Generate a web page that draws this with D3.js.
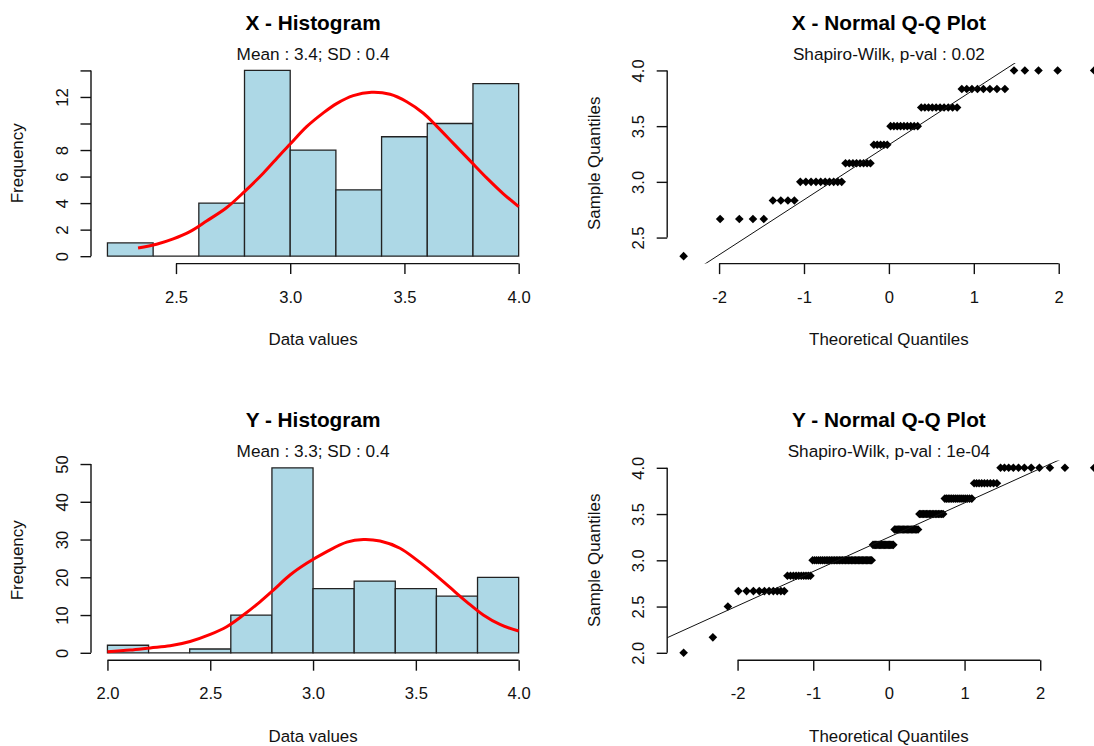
<!DOCTYPE html>
<html><head><meta charset="utf-8">
<script src="https://cdn.jsdelivr.net/npm/d3@7"></script>
<style>
body{margin:0;background:#fff}
svg{display:block;font-family:"Liberation Sans",Arial,sans-serif;background:#fff}
</style>
</head><body>
<svg id="chart" width="1094" height="746"></svg>
<script>
// ---------------- DATA ----------------
const histXBreaks = [2.2, 2.4, 2.6, 2.8, 3.0, 3.2, 3.4, 3.6, 3.8, 4.0];
const histXCounts = [1, 0, 4, 14, 8, 5, 9, 10, 13];
const histYBreaks = [2.0, 2.2, 2.4, 2.6, 2.8, 3.0, 3.2, 3.4, 3.6, 3.8, 4.0];
const histYCounts = [2, 0, 1, 10, 49, 17, 19, 17, 15, 20];

// normal-density overlay (red curve)
const curveXx = [2.334, 2.415, 2.488, 2.561, 2.634, 2.721, 2.80, 2.882, 2.955, 3.0, 3.072, 3.145, 3.203, 3.276, 3.356, 3.437, 3.51, 3.583, 3.641, 3.714, 3.787, 3.86, 3.933, 4.0];
const curveXy = [0.62, 0.90, 1.30, 1.85, 2.65, 3.65, 4.87, 6.25, 7.63, 8.45, 9.76, 10.8, 11.5, 12.1, 12.35, 12.2, 11.64, 10.77, 9.8, 8.5, 7.2, 5.9, 4.7, 3.74];
const curveYx = [2.0, 2.11, 2.208, 2.305, 2.402, 2.5, 2.58, 2.661, 2.742, 2.807, 2.888, 2.969, 3.067, 3.164, 3.245, 3.326, 3.423, 3.504, 3.585, 3.666, 3.747, 3.828, 3.909, 4.0];
const curveYy = [0.27, 0.72, 1.3, 1.86, 3.0, 4.87, 6.9, 10.0, 13.5, 16.6, 20.6, 23.7, 26.8, 29.3, 30.0, 29.6, 27.7, 24.6, 21.1, 17.3, 13.5, 10.0, 7.5, 5.76];

// QQ samples: distinct values and how many observations each
const qqXValues = [2.333, 2.667, 2.833, 3.0, 3.167, 3.333, 3.5, 3.667, 3.833, 4.0];
const qqXCounts = [1, 4, 4, 10, 8, 5, 9, 10, 8, 5];
const qqYValues = [2.0, 2.167, 2.5, 2.667, 2.833, 3.0, 3.167, 3.333, 3.5, 3.667, 3.833, 4.0];
const qqYCounts = [1, 1, 1, 10, 10, 39, 17, 19, 17, 15, 9, 11];
// reference lines (intercept, slope)
const qqLineIntercepts = [3.333, 3.25];
const qqLineSlopes = [0.494, 0.371];

// ticks
const histXTicksTop = [2.5, 3.0, 3.5, 4.0];
const histYTicksTop = [0, 2, 4, 6, 8, 10, 12, 14];
const histYLabelsTop = ["0", "2", "4", "6", "8", "", "12", ""];
const histXTicksBot = [2.0, 2.5, 3.0, 3.5, 4.0];
const histYTicksBot = [0, 10, 20, 30, 40, 50];
const qqXTicks = [-2, -1, 0, 1, 2];
const qqYTicksTop = [2.5, 3.0, 3.5, 4.0];
const qqYTicksBot = [2.0, 2.5, 3.0, 3.5, 4.0];

const titles = ["X - Histogram", "X - Normal Q-Q Plot", "Y - Histogram", "Y - Normal Q-Q Plot"];
const subtitles = ["Mean : 3.4; SD : 0.4", "Shapiro-Wilk, p-val : 0.02", "Mean : 3.3; SD : 0.4", "Shapiro-Wilk, p-val : 1e-04"];
const xLabels = ["Data values", "Theoretical Quantiles", "Data values", "Theoretical Quantiles"];
const yLabels = ["Frequency", "Sample Quantiles", "Frequency", "Sample Quantiles"];

// ---------------- LAYOUT ----------------
const regions = [
  {x0: 91.0, x1: 535.1, y0: 63.0, y1: 263.6, row: 0},
  {x0: 667.2, x1: 1110.6, y0: 63.0, y1: 263.6, row: 0},
  {x0: 91.0, x1: 535.1, y0: 460.4, y1: 660.2, row: 1},
  {x0: 667.2, x1: 1110.6, y0: 460.4, y1: 660.2, row: 1}
];
const rowOff = [0, 397];
const TICK = 10.5, INK = "#111";
const FS_TICK = 16.6, FS_LAB = 16.9, FS_SUB = 17.2, FS_TITLE = 20.8;

const svg = d3.select("#chart");

function rRange(lo, hi) { const d = (hi - lo) * 0.04; return [lo - d, hi + d]; }

function qnorm(p) {
  const a = [-3.969683028665376e+01, 2.209460984245205e+02, -2.759285104469687e+02, 1.383577518672690e+02, -3.066479806614716e+01, 2.506628277459239e+00];
  const b = [-5.447609879822406e+01, 1.615858368580409e+02, -1.556989798598866e+02, 6.680131188771972e+01, -1.328068155288572e+01];
  const c = [-7.784894002430293e-03, -3.223964580411365e-01, -2.400758277161838e+00, -2.549732539343734e+00, 4.374664141464968e+00, 2.938163982698783e+00];
  const d = [7.784695709041462e-03, 3.224671290700398e-01, 2.445134137142996e+00, 3.754408661907416e+00];
  const pl = 0.02425, ph = 1 - pl;
  let q, r;
  if (p < pl) { q = Math.sqrt(-2 * Math.log(p)); return (((((c[0]*q+c[1])*q+c[2])*q+c[3])*q+c[4])*q+c[5]) / ((((d[0]*q+d[1])*q+d[2])*q+d[3])*q+1); }
  if (p <= ph) { q = p - 0.5; r = q*q; return (((((a[0]*r+a[1])*r+a[2])*r+a[3])*r+a[4])*r+a[5])*q / (((((b[0]*r+b[1])*r+b[2])*r+b[3])*r+b[4])*r+1); }
  q = Math.sqrt(-2 * Math.log(1 - p)); return -(((((c[0]*q+c[1])*q+c[2])*q+c[3])*q+c[4])*q+c[5]) / ((((d[0]*q+d[1])*q+d[2])*q+d[3])*q+1);
}

function axisBottom(g, scale, ticks, labels, y) {
  const ax = g.append("g").attr("transform", `translate(0,${y})`)
    .call(d3.axisBottom(scale).tickValues(ticks).tickSizeOuter(0).tickSize(TICK)
      .tickFormat((d, i) => labels[i]));
  ax.attr("font-size", null).attr("font-family", null);
  ax.select(".domain").attr("d", `M${scale(ticks[0])},0H${scale(ticks[ticks.length - 1])}`)
    .attr("stroke", INK).attr("stroke-width", 1.4);
  ax.selectAll(".tick line").attr("stroke", INK).attr("stroke-width", 1.4);
  ax.selectAll(".tick text").attr("y", 39.2).attr("dy", null)
    .attr("fill", INK).style("font-size", FS_TICK + "px");
}

function axisLeft(g, scale, ticks, labels, x) {
  const ax = g.append("g").attr("transform", `translate(${x},0)`)
    .call(d3.axisLeft(scale).tickValues(ticks).tickSizeOuter(0).tickSize(TICK)
      .tickFormat((d, i) => labels[i]));
  ax.attr("font-size", null).attr("font-family", null);
  ax.select(".domain").attr("d", `M0,${scale(ticks[0])}V${scale(ticks[ticks.length - 1])}`)
    .attr("stroke", INK).attr("stroke-width", 1.4);
  ax.selectAll(".tick line").attr("stroke", INK).attr("stroke-width", 1.4);
  ax.selectAll(".tick text").attr("x", null).attr("dy", null)
    .attr("transform", "translate(-23.4,0) rotate(-90)")
    .attr("text-anchor", "middle").attr("fill", INK).style("font-size", FS_TICK + "px");
}

function frame(i) {
  const r = regions[i], off = rowOff[r.row];
  const g = svg.append("g");
  const cx = (r.x0 + r.x1) / 2, cy = (r.y0 + r.y1) / 2;
  g.append("text").attr("x", cx).attr("y", 30 + off).attr("text-anchor", "middle")
    .attr("font-weight", "bold").style("font-size", FS_TITLE + "px").attr("fill", "#000").text(titles[i]);
  g.append("text").attr("x", cx).attr("y", 60 + off).attr("text-anchor", "middle")
    .style("font-size", FS_SUB + "px").attr("fill", INK).text(subtitles[i]);
  g.append("text").attr("x", cx).attr("y", r.y1 + 81.4).attr("text-anchor", "middle")
    .style("font-size", FS_LAB + "px").attr("fill", INK).text(xLabels[i]);
  g.append("text").attr("transform", `translate(${r.x0 - 67.6},${cy}) rotate(-90)`)
    .attr("text-anchor", "middle").style("font-size", FS_LAB + "px").attr("fill", INK).text(yLabels[i]);
  svg.append("clipPath").attr("id", "clip" + i).append("rect")
    .attr("x", r.x0).attr("y", r.y0).attr("width", r.x1 - r.x0).attr("height", r.y1 - r.y0);
  return g;
}

function histogram(i, breaks, counts, cx, cy, xt, xl, yt, yl) {
  const r = regions[i];
  const g = frame(i);
  const x = d3.scaleLinear().domain(rRange(breaks[0], breaks[breaks.length - 1])).range([r.x0, r.x1]);
  const y = d3.scaleLinear().domain(rRange(0, d3.max(counts))).range([r.y1, r.y0]);
  const bins = counts.map((c, k) => ({x0: breaks[k], x1: breaks[k + 1], c}));
  g.append("g").selectAll("path").data(bins).join("path")
    .attr("d", b => `M${x(b.x0)},${y(0)}V${y(b.c)}H${x(b.x1)}V${y(0)}Z`)
    .attr("fill", "#add8e6").attr("stroke", "#222").attr("stroke-width", 1.3);
  const pts = cx.map((v, k) => [v, cy[k]]);
  g.append("path").datum(pts)
    .attr("d", d3.line().x(d => x(d[0])).y(d => y(d[1])).curve(d3.curveCatmullRom.alpha(0.5)))
    .attr("fill", "none").attr("stroke", "#ff0000").attr("stroke-width", 3).attr("stroke-linejoin", "round");
  axisBottom(g, x, xt, xl, r.y1);
  axisLeft(g, y, yt, yl, r.x0);
}

function qqplot(i, values, counts, a, b, xt, yt) {
  const r = regions[i];
  const g = frame(i);
  const sample = [];
  values.forEach((v, k) => { for (let j = 0; j < counts[k]; j++) sample.push(v); });
  sample.sort(d3.ascending);
  const n = sample.length, aa = n <= 10 ? 3 / 8 : 0.5;
  const pts = sample.map((v, k) => [qnorm((k + 1 - aa) / (n + 1 - 2 * aa)), v]);
  const x = d3.scaleLinear().domain(rRange(d3.min(pts, d => d[0]), d3.max(pts, d => d[0]))).range([r.x0, r.x1]);
  const y = d3.scaleLinear().domain(rRange(d3.min(sample), d3.max(sample))).range([r.y1, r.y0]);
  const s = 4.3;
  g.append("g").selectAll("path").data(pts).join("path")
    .attr("transform", d => `translate(${x(d[0])},${y(d[1])})`)
    .attr("d", `M0,${-s}L${s},0L0,${s}L${-s},0Z`).attr("fill", "#000");
  const [d0, d1] = x.domain();
  g.append("line").attr("clip-path", `url(#clip${i})`)
    .attr("x1", x(d0)).attr("y1", y(a + b * d0)).attr("x2", x(d1)).attr("y2", y(a + b * d1))
    .attr("stroke", "#111").attr("stroke-width", 1);
  axisBottom(g, x, xt, xt.map(String), r.y1);
  axisLeft(g, y, yt, yt.map(d => d.toFixed(1)), r.x0);
}

histogram(0, histXBreaks, histXCounts, curveXx, curveXy, histXTicksTop, histXTicksTop.map(d => d.toFixed(1)), histYTicksTop, histYLabelsTop);
qqplot(1, qqXValues, qqXCounts, qqLineIntercepts[0], qqLineSlopes[0], qqXTicks, qqYTicksTop);
histogram(2, histYBreaks, histYCounts, curveYx, curveYy, histXTicksBot, histXTicksBot.map(d => d.toFixed(1)), histYTicksBot, histYTicksBot.map(String));
qqplot(3, qqYValues, qqYCounts, qqLineIntercepts[1], qqLineSlopes[1], qqXTicks, qqYTicksBot);
</script>
</body></html>
